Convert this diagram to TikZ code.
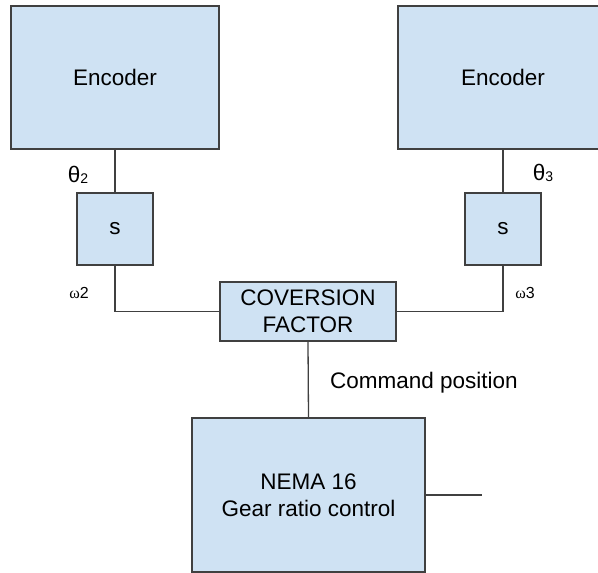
\documentclass[tikz,border=0pt]{standalone}
\usepackage{fontspec}
\setmainfont{Liberation Sans}
\newfontfamily\serifgreek{Liberation Serif}
\definecolor{boxfill}{HTML}{CFE2F3}
\definecolor{edge}{HTML}{404040}
\begin{document}
\begin{tikzpicture}[x=1pt,y=-1pt,
  blk/.style={draw=edge,fill=boxfill,line width=1.3pt,inner sep=0pt,align=center,
    font=\fontsize{22.5}{27}\selectfont},
  wire/.style={draw=edge,line width=1.3pt},
  lbl/.style={inner sep=0pt,font=\fontsize{22.5}{27}\selectfont}]
\useasboundingbox (0,0) rectangle (598,573);
\node[blk,minimum width=208,minimum height=143] (enc1) at (115,77.5) {Encoder};
\node[blk,minimum width=210,minimum height=143] (enc2) at (503,77.5) {Encoder};
\node[blk,minimum width=76,minimum height=72] (s1) at (115,229) {s};
\node[blk,minimum width=76,minimum height=72] (s2) at (503,229) {s};
\node[blk,minimum width=176,minimum height=59] (conv) at (308,311.5) {COVERSION\\FACTOR};
\node[blk,minimum width=233,minimum height=154] (nema) at (308.5,495) {NEMA 16\\Gear ratio control};
\coordinate (out) at (482,495);
\draw[wire] (enc1.south) -- (s1.north);
\draw[wire] (enc2.south) -- (s2.north);
\draw[wire] (s1.south) |- (conv.west);
\draw[wire] (s2.south) |- (conv.east);
\draw[wire] (conv.south) -- (nema.north);
\draw[wire] (nema.east) -- (out);
\node[lbl] (th2) at (78,175) {θ\raisebox{-1pt}{\fontsize{14}{14}\selectfont 2}};
\node[lbl] (th3) at (543,173) {θ\raisebox{-1pt}{\fontsize{14}{14}\selectfont 3}};
\node[lbl,font=\fontsize{16}{18}\selectfont] (om2) at (79,293) {{\serifgreek ω}2};
\node[lbl,font=\fontsize{16}{18}\selectfont] (om3) at (525,293) {{\serifgreek ω}3};
\node[lbl,anchor=west] (cmd) at (330,383) {Command position};
\end{tikzpicture}
\end{document}
